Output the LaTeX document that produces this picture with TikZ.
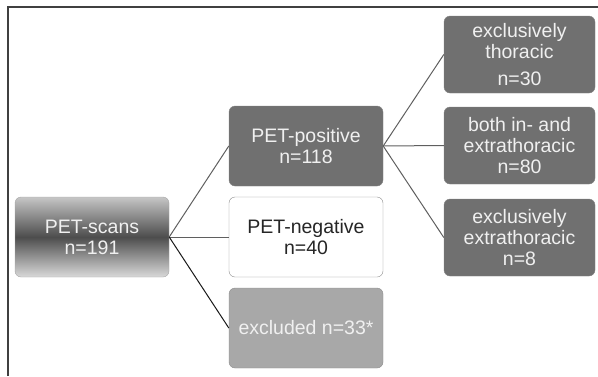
\documentclass[tikz,border=0pt]{standalone}
\usepackage{fontspec}
\setmainfont{Liberation Sans}
\definecolor{boxdark}{RGB}{112,112,112}
\definecolor{boxlight}{RGB}{168,168,168}
\definecolor{boxtext}{RGB}{240,240,240}
\definecolor{linkgray}{RGB}{95,95,95}
\tikzset{
  box/.style={rounded corners=6pt, minimum width=154pt, minimum height=80pt, align=center,
    inner sep=2pt, font=\fontsize{19.5}{21}\selectfont},
  darkbox/.style={box, draw=boxdark!85!white, fill=boxdark, text=boxtext},
  subbox/.style={darkbox, minimum width=151pt, minimum height=77pt},
  link/.style={draw=linkgray, line width=1pt}
}
\begin{document}
\begin{tikzpicture}[x=1pt, y=-1pt]
    \useasboundingbox (0,0) rectangle (598,376);
    \draw[line width=1.5pt, black!75] (8,376) -- (8,7) -- (598,7);
    % first level
    \node[box, draw=gray!70, top color=gray!45, bottom color=gray!30, middle color=black!70, text=boxtext] (scans) at (92,237) {PET-scans\\n=191};
    % second level
    \node[darkbox] (pos) at (306,146) {PET-positive\\n=118};
    \node[box, draw=gray!90, fill=white, text=black!85] (neg) at (306,237) {PET-negative\\n=40};
    \node[box, draw=gray!90, fill=boxlight, text=boxtext] (excl) at (306,328) {excluded n=33*};
    % third level
    \node[subbox] (thor) at (519.5,54.5) {exclusively\\thoracic\\[6pt]n=30};
    \node[subbox] (both) at (519.5,145.5) {both in- and\\extrathoracic\\n=80};
    \node[subbox] (extra) at (519.5,237.5) {exclusively\\extrathoracic\\n=8};
    \draw[link] (scans.east) -- (pos.west);
    \draw[link] (scans.east) -- (neg.west);
    \draw[line width=1pt, black!90] (scans.east) -- (excl.west);
    \draw[link] (pos.east) -- (thor.west);
    \draw[link] (pos.east) -- (both.west);
    \draw[link] (pos.east) -- (extra.west);
\end{tikzpicture}
\end{document}
